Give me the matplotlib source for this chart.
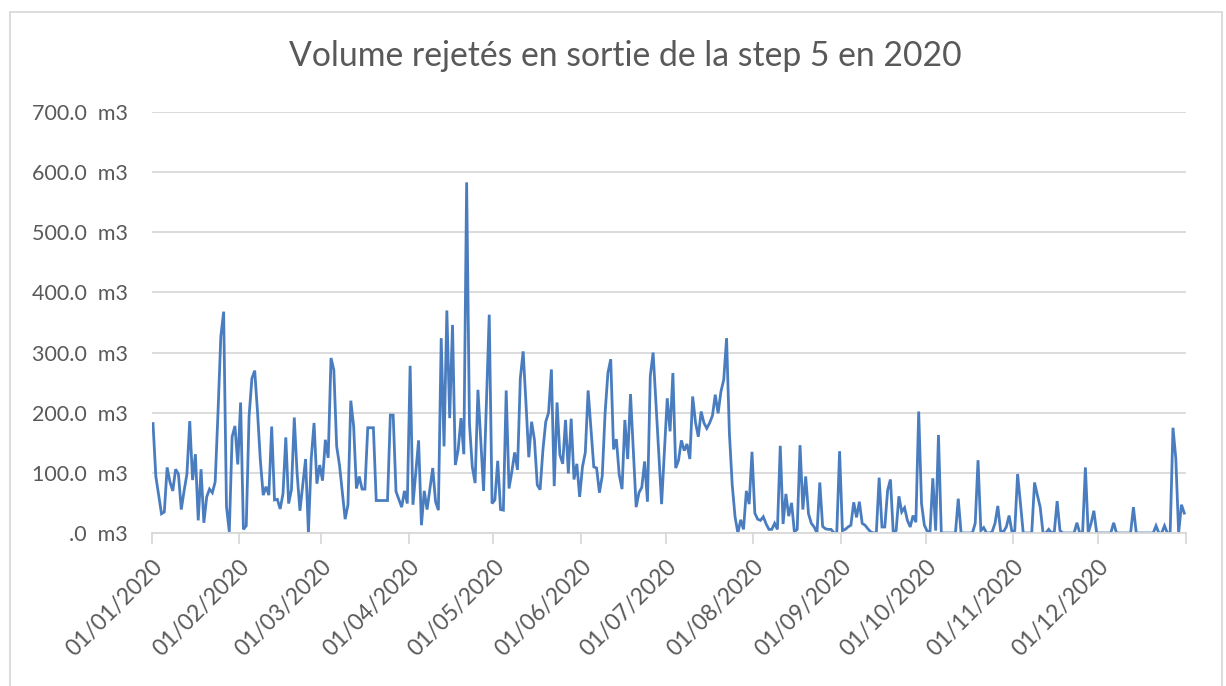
import pandas as pd
import matplotlib
matplotlib.use("Agg")
import matplotlib.pyplot as plt
import matplotlib.dates as mdates
from matplotlib.patches import Rectangle
from matplotlib.ticker import FixedLocator, FuncFormatter
from matplotlib.transforms import ScaledTranslation

# daily volumes (m3), 01/01/2020 -> 31/12/2020
volumes = [
    182, 94, 63, 32, 35, 109, 85, 70, 106, 98,
    39, 70, 98, 186, 88, 131, 21, 106, 17, 60,
    73, 67, 85, 200, 327, 368, 44, 2, 160, 178,
    114, 217, 6, 12, 194, 257, 270, 200, 120, 63,
    77, 63, 177, 55, 56, 40, 65, 159, 49, 72,
    192, 99, 37, 80, 123, 0, 124, 183, 82, 113,
    87, 155, 125, 291, 271, 144, 113, 68, 23, 47,
    220, 178, 74, 94, 73, 73, 175, 175, 175, 54,
    54, 54, 54, 54, 196, 196, 69, 56, 43, 70,
    49, 278, 47, 100, 154, 13, 70, 39, 73, 108,
    52, 38, 324, 144, 370, 191, 346, 113, 138, 191,
    131, 583, 182, 110, 83, 238, 155, 70, 215, 363,
    49, 55, 120, 39, 38, 237, 74, 102, 134, 105,
    257, 302, 216, 126, 185, 155, 80, 72, 138, 185,
    200, 272, 78, 217, 130, 115, 188, 99, 190, 89,
    115, 60, 110, 134, 237, 173, 110, 108, 67, 95,
    199, 266, 289, 139, 156, 97, 73, 188, 123, 231,
    137, 43, 67, 76, 119, 52, 261, 300, 218, 133,
    48, 137, 224, 169, 266, 108, 121, 154, 137, 148,
    123, 227, 184, 160, 202, 183, 174, 183, 195, 230,
    199, 235, 255, 324, 166, 80, 27, 0, 22, 6,
    70, 48, 135, 33, 23, 21, 27, 15, 6, 6,
    16, 6, 145, 15, 65, 28, 50, 2, 6, 146,
    39, 94, 32, 16, 10, 0, 84, 11, 7, 6,
    6, 0, 0, 136, 4, 6, 10, 13, 51, 26,
    52, 16, 13, 7, 2, 0, 0, 92, 10, 10,
    71, 89, 0, 4, 61, 35, 42, 21, 10, 29,
    18, 202, 49, 13, 3, 2, 91, 4, 163, 0,
    0, 0, 0, 0, 0, 57, 0, 0, 0, 0,
    0, 16, 121, 4, 9, 0, 0, 2, 16, 45,
    3, 2, 10, 29, 2, 4, 98, 50, 0, 0,
    0, 0, 84, 63, 43, 0, 0, 6, 0, 2,
    53, 4, 0, 0, 0, 0, 0, 17, 0, 0,
    109, 0, 16, 37, 0, 0, 0, 0, 0, 0,
    17, 0, 0, 0, 0, 0, 0, 43, 0, 0,
    0, 0, 0, 0, 0, 12, 0, 0, 12, 0,
    0, 175, 124, 0, 47, 33,
]
dates = pd.date_range("2020-01-01", periods=len(volumes), freq="D")
month_starts = pd.date_range("2020-01-01", "2020-12-01", freq="MS")
y_ticks = [0, 100, 200, 300, 400, 500, 600, 700]
title = "Volume rejetés en sortie de la step 5 en 2020"

grey_txt = "#595959"
grey_line = "#d9d9d9"
half_day = pd.Timedelta(hours=12)

plt.rcParams["font.family"] = ["Lato", "DejaVu Sans"]

fig = plt.figure(figsize=(12.26, 6.86), dpi=100)
ax = fig.add_axes([151.6 / 1226, 1 - 533 / 686, (1185.7 - 151.6) / 1226, (533 - 112) / 686])

ax.plot(dates, volumes, color="#4A7DBF", lw=2.0, solid_joinstyle="miter")

ax.set_xlim(dates[0] - half_day, dates[-1] + half_day)
ax.set_ylim(0, 700)

# y axis: grid only, labels like excel "#,##0.0 m3"
def fmt_m3(v, pos):
    s = "%.1f" % v
    if s.startswith("0"):
        s = s[1:]
    return s + "  m3"

ax.yaxis.set_major_locator(FixedLocator(y_ticks))
ax.yaxis.set_major_formatter(FuncFormatter(fmt_m3))
ax.tick_params(axis="y", length=0, pad=17, labelsize=15.5, labelcolor=grey_txt)
ax.grid(axis="y", color=grey_line, lw=1.3)
ax.set_axisbelow(True)

# x axis: tick marks between months, labels under each 1st of month
bounds = list(month_starts - half_day) + [dates[-1] + half_day]
ax.set_xticks([mdates.date2num(d) for d in bounds])
ax.set_xticklabels([])
ax.set_xticks([mdates.date2num(d) for d in month_starts], minor=True)
ax.set_xticklabels([d.strftime("%d/%m/%Y") for d in month_starts], minor=True,
                   rotation=45, ha="right", va="center", rotation_mode="anchor")
ax.tick_params(axis="x", which="major", length=8, width=1.3, color=grey_line)
ax.tick_params(axis="x", which="minor", length=0, pad=22, labelsize=16.5, labelcolor=grey_txt)
shift = ScaledTranslation(6 / 100, 0, fig.dpi_scale_trans)
for lbl in ax.get_xticklabels(minor=True):
    lbl.set_transform(lbl.get_transform() + shift)

for side in ["left", "right", "top"]:
    ax.spines[side].set_visible(False)
ax.spines["bottom"].set_color(grey_line)
ax.spines["bottom"].set_linewidth(1.3)

fig.text(625 / 1226, 1 - 66 / 686, title, ha="center", va="baseline",
         fontsize=24.3, color=grey_txt)

# chart frame
fig.patches.append(Rectangle((10 / 1226, -0.01), 1212 / 1226, 1 - 12 / 686 + 0.01,
                             transform=fig.transFigure, fill=False,
                             edgecolor=grey_line, lw=1.3))

fig.savefig("out.png", dpi=100)
